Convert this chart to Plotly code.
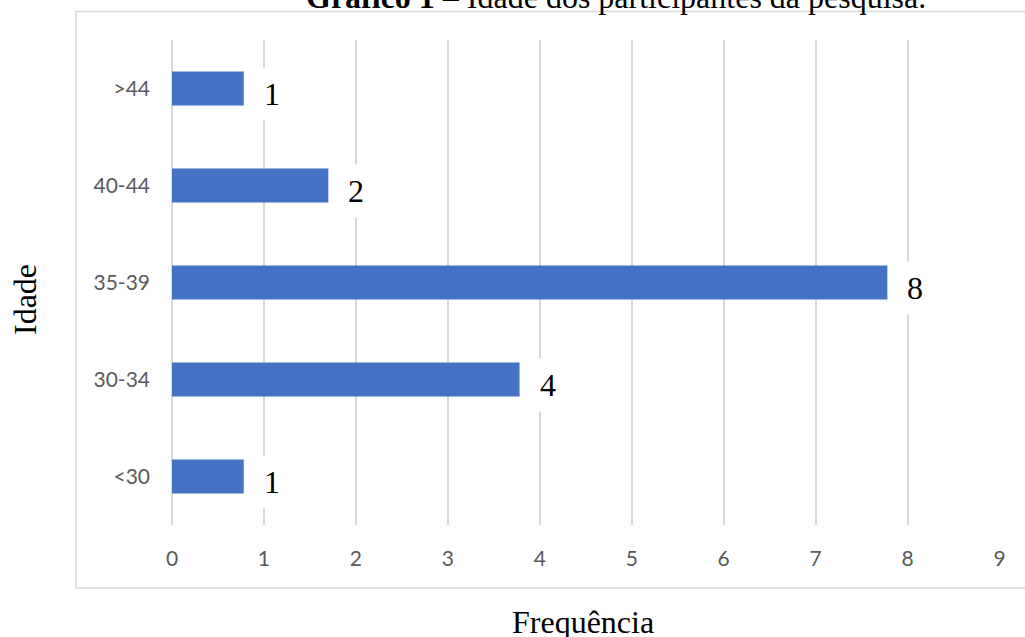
import plotly.graph_objects as go

# Data (bottom to top)
categories = ["<30", "30-34", "35-39", "40-44", ">44"]
bar_lengths = [0.78, 3.78, 7.78, 1.70, 0.78]   # bar extents as drawn in the picture
label_values = [1, 4, 8, 2, 1]                 # data labels shown next to bars
x_ticks = [0, 1, 2, 3, 4, 5, 6, 7, 8, 9]

title_html = "<b>Gráfico 1</b> – Idade dos participantes da pesquisa."
x_title = "Frequência"
y_title = "Idade"

W, H = 1025, 637
L, R, T, B = 172, 25, 40, 112
plot_w = W - L - R
plot_h = H - T - B

def px_x(p):
    return (p - L) / plot_w

def px_y(p):
    return (H - B - p) / plot_h

serif = "Liberation Serif"
sans = "Lato"

fig = go.Figure()
fig.add_trace(go.Bar(
    x=bar_lengths,
    y=categories,
    orientation="h",
    width=0.35,
    marker=dict(color="#4472C4", line=dict(width=0)),
    hoverinfo="skip",
))

annotations = []
for c, bl, lv in zip(categories, bar_lengths, label_values):
    annotations.append(dict(
        x=bl, y=c, xref="x", yref="y",
        text=str(lv), showarrow=False,
        xanchor="center", yanchor="middle",
        xshift=28, yshift=-5,
        bgcolor="white", borderpad=8,
        font=dict(family=serif, size=32, color="black"),
    ))

annotations.append(dict(
    x=px_x(616), y=px_y(-3), xref="paper", yref="paper",
    text=title_html, showarrow=False, xanchor="center", yanchor="middle",
    font=dict(family=serif, size=32, color="black"),
))
annotations.append(dict(
    x=px_x(25), y=px_y(300), xref="paper", yref="paper",
    text=y_title, showarrow=False, textangle=-90,
    xanchor="center", yanchor="middle",
    font=dict(family=serif, size=32, color="black"),
))
annotations.append(dict(
    x=px_x(583), y=px_y(622), xref="paper", yref="paper",
    text=x_title, showarrow=False,
    xanchor="center", yanchor="middle",
    font=dict(family=serif, size=32, color="black"),
))

fig.update_layout(
    width=W, height=H,
    margin=dict(l=L, r=R, t=T, b=B, pad=0),
    plot_bgcolor="white", paper_bgcolor="white",
    showlegend=False,
    annotations=annotations,
    shapes=[dict(
        type="rect", xref="paper", yref="paper",
        x0=px_x(76), x1=px_x(1100), y0=px_y(588), y1=px_y(11.5),
        line=dict(color="#d9d9d9", width=1.5),
        fillcolor="rgba(0,0,0,0)", layer="below",
    )],
    xaxis=dict(
        range=[0, 9.005],
        tickmode="array", tickvals=x_ticks, ticktext=[str(t) for t in x_ticks],
        showgrid=True, gridcolor="#d9d9d9", gridwidth=1.5,
        zeroline=True, zerolinecolor="#d9d9d9", zerolinewidth=1.5,
        showline=False, ticks="",
        ticklabelstandoff=19,
        tickfont=dict(family=sans, size=21, color="#595959"),
        fixedrange=True,
    ),
    yaxis=dict(
        range=[-0.5, 4.5],
        categoryorder="array", categoryarray=categories,
        showgrid=False, zeroline=False, showline=False, ticks="",
        ticklabelstandoff=21,
        tickfont=dict(family=sans, size=21, color="#595959"),
        fixedrange=True,
    ),
)

fig.write_html(
    "out.html",
    config={"displayModeBar": False},
    post_script="document.body.style.margin='0';document.body.style.overflow='hidden';",
)
